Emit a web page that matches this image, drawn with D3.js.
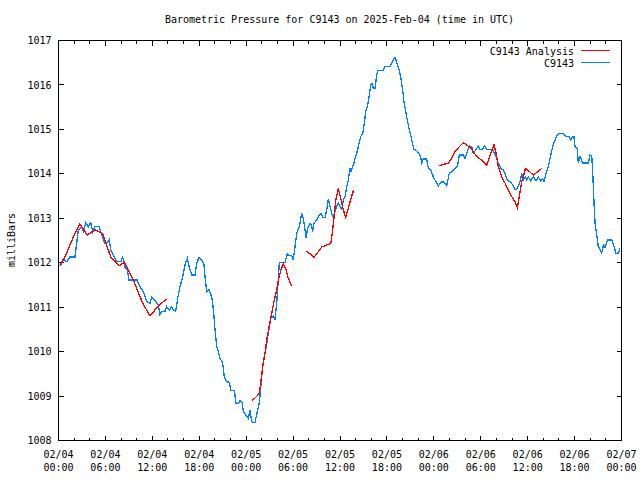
<!DOCTYPE html>
<html><head><meta charset="utf-8">
<script src="https://cdn.jsdelivr.net/npm/d3@7"></script>
<style>
body{margin:0;background:#fff}
svg{display:block}
text{font-family:"DejaVu Sans Mono","Liberation Mono",monospace;font-size:10px;fill:#000}
</style></head><body><svg id="c" width="640" height="480"></svg>
<script>
// ---------- data ----------
const titleText = "Barometric Pressure for C9143 on 2025-Feb-04 (time in UTC)";
const yLabelText = "milliBars";
const seriesNames = ["C9143 Analysis", "C9143"];
const startTime = "2025-02-04T00:00:00Z";
const endTime = "2025-02-07T00:00:00Z";
const yTickValues = [1008, 1009, 1010, 1011, 1012, 1013, 1014, 1015, 1016, 1017];

// station observations: hours since 2025-02-04 00:00 UTC
const stationHours = [0.26,0.68,1.11,1.53,2.17,2.39,2.60,3.03,3.24,3.54,3.88,4.18,4.44,4.73,5.28,5.59,6.01,6.31,6.56,6.74,7.07,7.51,8.02,8.27,8.57,8.86,9.08,10.14,10.40,10.91,11.34,11.77,11.98,12.53,12.83,13.04,13.26,13.68,13.90,14.23,14.54,14.75,15.05,15.31,15.60,15.95,16.24,16.54,16.79,17.10,17.52,17.74,18.03,18.38,18.67,18.80,19.02,19.31,19.66,19.86,20.08,20.30,20.50,20.72,21.06,21.27,21.58,21.91,22.09,22.55,22.77,23.06,23.28,23.57,23.70,24.13,24.34,24.56,24.77,25.19,25.49,25.74,26.05,26.26,26.56,26.90,27.20,27.54,27.75,27.97,28.17,28.30,29.03,29.33,29.58,29.89,30.09,30.31,30.53,30.86,31.17,31.37,31.59,31.72,31.88,32.23,32.45,32.57,32.74,33.09,33.42,33.60,33.86,34.15,34.37,34.57,34.79,35.00,35.21,35.43,35.64,35.85,36.07,36.28,36.49,36.71,36.92,37.13,37.34,37.47,37.69,37.86,37.98,38.20,38.41,38.71,38.97,39.17,39.35,39.56,39.77,39.99,40.20,40.32,40.54,40.76,40.89,41.60,41.82,42.46,42.68,42.88,43.10,43.23,43.39,43.61,43.83,44.08,44.25,44.47,44.67,44.89,45.11,45.31,45.53,45.87,46.17,46.39,46.52,46.72,47.16,47.36,47.67,48.00,48.34,48.64,49.07,49.37,49.71,50.04,50.35,50.77,51.07,51.32,51.84,52.05,52.35,52.60,52.91,53.11,53.46,53.75,53.97,54.32,54.52,54.83,55.59,55.76,56.02,56.31,56.62,56.95,57.17,57.39,57.59,57.81,58.15,58.45,58.66,58.87,59.09,59.30,59.51,59.73,59.94,60.15,60.45,60.79,61.13,61.43,61.73,61.99,62.15,62.41,62.71,63.01,63.27,63.56,63.86,64.11,64.55,64.84,65.39,65.57,65.78,65.99,66.12,66.41,66.54,66.76,67.10,67.82,68.04,68.26,68.39,68.55,68.68,68.90,69.10,69.32,69.54,69.75,69.96,70.26,70.82,71.03,71.37,71.66,71.88];
const stationValues = [1011.92,1012.07,1012.01,1012.12,1012.12,1012.43,1012.72,1012.80,1012.69,1012.89,1012.80,1012.89,1012.69,1012.80,1012.80,1012.61,1012.42,1012.44,1012.51,1012.28,1012.16,1012.01,1012.01,1012.11,1011.89,1011.83,1011.60,1011.60,1011.47,1011.34,1011.11,1011.08,1011.21,1011.11,1011.04,1010.81,1010.89,1010.90,1011.00,1010.92,1011.00,1010.92,1010.90,1011.19,1011.45,1011.67,1011.94,1012.09,1011.89,1011.71,1011.71,1011.97,1012.11,1012.05,1011.94,1011.67,1011.34,1011.38,1011.22,1010.96,1010.48,1010.10,1009.99,1009.84,1009.73,1009.42,1009.31,1009.30,1009.11,1009.11,1008.83,1008.82,1008.89,1008.83,1008.64,1008.54,1008.49,1008.68,1008.41,1008.39,1008.64,1008.83,1009.42,1009.76,1010.03,1010.40,1010.74,1010.79,1010.70,1011.08,1011.60,1011.99,1011.99,1012.19,1012.15,1012.15,1012.05,1012.35,1012.65,1012.80,1013.10,1012.99,1012.73,1012.54,1012.73,1012.88,1012.81,1012.69,1012.88,1012.95,1013.06,1013.10,1013.01,1013.01,1013.19,1013.42,1013.25,1013.10,1013.01,1013.14,1013.27,1013.33,1013.25,1013.19,1013.40,1013.47,1013.70,1013.85,1014.11,1014.04,1014.15,1014.23,1014.34,1014.45,1014.60,1014.83,1014.90,1015.12,1015.39,1015.50,1015.72,1015.99,1016.02,1015.91,1015.91,1016.21,1016.32,1016.32,1016.41,1016.41,1016.47,1016.56,1016.60,1016.55,1016.44,1016.33,1016.17,1015.87,1015.61,1015.39,1015.20,1015.01,1014.86,1014.68,1014.54,1014.51,1014.45,1014.36,1014.23,1014.32,1014.32,1014.11,1014.08,1013.92,1013.81,1013.72,1013.81,1013.80,1013.72,1014.00,1014.04,1014.11,1014.15,1014.41,1014.41,1014.34,1014.49,1014.62,1014.60,1014.45,1014.53,1014.62,1014.53,1014.54,1014.62,1014.53,1014.53,1014.47,1014.38,1014.23,1014.11,1014.08,1014.00,1013.87,1013.83,1013.81,1013.74,1013.64,1013.64,1013.72,1013.81,1014.00,1013.85,1013.92,1013.85,1013.92,1013.83,1013.92,1013.83,1013.92,1013.83,1013.88,1013.81,1014.00,1014.15,1014.41,1014.60,1014.75,1014.86,1014.90,1014.90,1014.84,1014.82,1014.75,1014.82,1014.82,1014.60,1014.56,1014.23,1014.38,1014.23,1014.23,1014.41,1014.38,1014.00,1013.33,1012.88,1012.61,1012.35,1012.28,1012.21,1012.39,1012.33,1012.50,1012.50,1012.39,1012.20,1012.21,1012.31];

// analysis: hours since start; null marks a gap between runs
const analysisHours = [0.35,0.90,1.53,2.17,2.81,3.75,4.73,5.72,6.74,7.84,8.50,9.63,10.83,11.77,12.83,13.90,null,
  24.85,25.41,25.74,25.92,26.18,26.47,26.69,26.99,27.33,27.62,27.97,28.26,28.52,28.81,29.16,29.45,29.89,null,
  31.72,32.14,32.74,33.29,33.72,34.37,34.88,35.08,35.30,35.52,35.85,36.16,36.49,36.79,37.13,37.47,37.82,null,
  48.76,49.28,49.92,50.35,50.77,51.32,51.84,52.40,52.91,53.55,54.19,54.83,55.25,55.76,56.02,56.31,56.75,57.17,57.59,58.02,58.45,58.74,59.00,59.30,59.62,59.78,60.30,60.79,61.23,61.86];
const analysisValues = [1011.94,1012.12,1012.39,1012.65,1012.86,1012.61,1012.73,1012.64,1012.12,1011.92,1012.00,1011.60,1011.08,1010.79,1011.02,1011.17,null,
  1008.89,1008.98,1009.05,1009.27,1009.65,1009.95,1010.25,1010.55,1010.85,1011.11,1011.38,1011.67,1011.83,1011.97,1011.83,1011.64,1011.47,null,
  1012.25,1012.20,1012.11,1012.24,1012.34,1012.39,1012.42,1012.65,1013.02,1013.40,1013.66,1013.44,1013.18,1013.01,1013.21,1013.44,1013.63,null,
  1014.17,1014.20,1014.23,1014.34,1014.49,1014.60,1014.69,1014.62,1014.54,1014.38,1014.29,1014.19,1014.41,1014.64,1014.45,1014.15,1013.92,1013.78,1013.63,1013.48,1013.36,1013.23,1013.48,1013.81,1014.00,1014.11,1014.04,1013.96,1014.02,1014.11];

const colors = {analysis: "#ff0000", station: "#0080ff"};

// ---------- chart ----------
const W = 640, H = 480;
const m = {left: 58, right: 19, top: 40, bottom: 40};
const svg = d3.select("#c");
const t0 = new Date(startTime), t1 = new Date(endTime);
const hr = h => new Date(t0.getTime() + h * 3600000);

const x = d3.scaleUtc().domain([t0, t1]).range([m.left, W - m.right]);
const y = d3.scaleLinear().domain([1008, 1017]).range([H - m.bottom, m.top]);

const majorTicks = d3.utcHour.every(6).range(t0, new Date(t1.getTime() + 1));
const minorTicks = d3.utcHour.every(2).range(t0, new Date(t1.getTime() + 1))
  .filter(d => d.getUTCHours() % 6 !== 0);

function styleAxis(g) {
  g.select(".domain").remove();
  g.selectAll("line").attr("stroke", "#000").attr("shape-rendering", "crispEdges");
}

// bottom axis, ticks inward
const gB = svg.append("g").attr("transform", `translate(0,${H - m.bottom + 0.5})`)
  .call(d3.axisBottom(x).tickValues(majorTicks).tickSizeInner(-5).tickSizeOuter(0).tickFormat(""));
styleAxis(gB);
gB.selectAll(".tick text").remove();
gB.selectAll(".tick").append("text")
  .attr("text-anchor", "middle")
  .each(function(d) {
    const t = d3.select(this);
    t.append("tspan").attr("x", 0).attr("y", 17).text(d3.utcFormat("%m/%d")(d));
    t.append("tspan").attr("x", 0).attr("y", 30).text(d3.utcFormat("%H:%M")(d));
  });
const gBm = svg.append("g").attr("transform", `translate(0,${H - m.bottom + 0.5})`)
  .call(d3.axisBottom(x).tickValues(minorTicks).tickSizeInner(-3).tickSizeOuter(0).tickFormat(""));
styleAxis(gBm);

// top axis mirror
const gT = svg.append("g").attr("transform", `translate(0,${m.top + 0.5})`)
  .call(d3.axisTop(x).tickValues(majorTicks).tickSizeInner(-5).tickSizeOuter(0).tickFormat(""));
styleAxis(gT);
const gTm = svg.append("g").attr("transform", `translate(0,${m.top + 0.5})`)
  .call(d3.axisTop(x).tickValues(minorTicks).tickSizeInner(-3).tickSizeOuter(0).tickFormat(""));
styleAxis(gTm);

// left axis
const gL = svg.append("g").attr("transform", `translate(${m.left + 0.5},0)`)
  .call(d3.axisLeft(y).tickValues(yTickValues).tickSizeInner(-5).tickSizeOuter(0).tickFormat(d3.format("d")));
styleAxis(gL);
gL.selectAll(".tick text").attr("x", -7).attr("dy", "0.36em").attr("fill", "#000");

// right axis mirror
const gR = svg.append("g").attr("transform", `translate(${W - m.right + 0.5},0)`)
  .call(d3.axisRight(y).tickValues(yTickValues).tickSizeInner(-5).tickSizeOuter(0).tickFormat(""));
styleAxis(gR);

svg.selectAll(".tick text").style("font-family", '"DejaVu Sans Mono",monospace').style("font-size", "10px");

// border
svg.append("rect")
  .attr("x", m.left + 0.5).attr("y", m.top + 0.5)
  .attr("width", W - m.right - m.left).attr("height", H - m.bottom - m.top)
  .attr("fill", "none").attr("stroke", "#000").attr("shape-rendering", "crispEdges");

// data lines (aliased, like the original bitmap plot)
const stationData = stationHours.map((h, i) => ({t: hr(h), v: stationValues[i]}));
const analysisData = analysisHours.map((h, i) => ({t: h == null ? null : hr(h), v: analysisValues[i]}));
const line = d3.line().defined(d => d.t != null && d.v != null).x(d => x(d.t)).y(d => y(d.v));

svg.append("path").datum(stationData)
  .attr("d", line).attr("fill", "none").attr("stroke", colors.station)
  .attr("stroke-width", 1.3).attr("shape-rendering", "crispEdges");
svg.append("path").datum(analysisData)
  .attr("d", line).attr("fill", "none").attr("stroke", colors.analysis)
  .attr("stroke-width", 1.3).attr("shape-rendering", "crispEdges");

// title
svg.append("text").attr("x", (m.left + W - m.right) / 2).attr("y", 23)
  .attr("text-anchor", "middle").text(titleText);

// y label
svg.append("text").attr("transform", `translate(15,${(m.top + H - m.bottom) / 2}) rotate(-90)`)
  .attr("text-anchor", "middle").text(yLabelText);

// legend
const legend = svg.append("g");
[[seriesNames[0], colors.analysis, 50.5], [seriesNames[1], colors.station, 62.5]].forEach(([name, c, ly]) => {
  legend.append("text").attr("x", 574).attr("y", ly + 4).attr("text-anchor", "end").text(name);
  legend.append("line").attr("x1", 581).attr("x2", 610).attr("y1", ly).attr("y2", ly)
    .attr("stroke", c).attr("stroke-width", 1).attr("shape-rendering", "crispEdges");
});
</script></body></html>
